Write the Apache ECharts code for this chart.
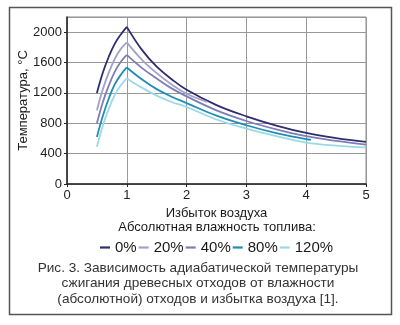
<!DOCTYPE html>
<html>
<head>
<meta charset="utf-8">
<script src="https://cdn.jsdelivr.net/npm/echarts@6/dist/echarts.min.js"></script>
<style>html,body{margin:0;padding:0;background:#fff}#c{width:400px;height:325px}</style>
</head>
<body>
<div id="c"></div>
<script>
var seriesNames = ['0%', '20%', '40%', '80%', '120%'];
var seriesColors = ['#2e2d6e', '#a3a2c8', '#7f7db5', '#1f8db6', '#9cd9e6'];
var x0  = [0.5, 0.6, 0.7, 0.8, 0.9, 1, 1.25, 1.5, 1.75, 2, 2.5, 3, 3.5, 4, 4.5, 5];
var t0  = [1200, 1470, 1680, 1850, 1970, 2070, 1770, 1545, 1380, 1242, 1040, 892, 770, 673, 605, 555];
var x20 = [0.5, 0.6, 0.7, 0.8, 0.9, 1, 1.25, 1.5, 1.75, 2, 2.35];
var t20 = [970, 1250, 1470, 1650, 1780, 1866, 1640, 1460, 1310, 1189, 1080];
var x40 = [0.5, 0.6, 0.7, 0.8, 0.9, 1, 1.25, 1.5, 1.75, 2, 2.5, 3, 3.5, 4, 4.5, 5];
var t40 = [800, 1080, 1300, 1480, 1610, 1700, 1530, 1390, 1260, 1154, 970, 830, 720, 630, 568, 520];
var x80 = [0.5, 0.6, 0.7, 0.8, 0.9, 1, 1.25, 1.5, 1.75, 2, 2.5, 3, 3.5, 4, 4.08];
var t80 = [620, 900, 1130, 1315, 1440, 1535, 1380, 1250, 1150, 1066, 900, 774, 670, 590, 580];
var x120 = [0.5, 0.6, 0.7, 0.8, 0.9, 1, 1.25, 1.5, 1.75, 2, 2.5, 3, 3.5, 4, 4.5, 5];
var t120 = [490, 770, 995, 1175, 1300, 1390, 1270, 1165, 1080, 1014, 850, 730, 630, 545, 505, 481];
var xTicks = [0, 1, 2, 3, 4, 5];
var yTicks = [0, 400, 800, 1200, 1600, 2000];
var yAxisTitle = 'Температура, °С';
var xAxisTitle = 'Избыток воздуха';
var legendTitle = 'Абсолютная влажность топлива:';
var captionLines = ['Рис. 3. Зависимость адиабатической температуры',
                    'сжигания древесных отходов от влажности',
                    '(абсолютной) отходов и избытка воздуха [1].'];

var xs = [x0, x20, x40, x80, x120];
var ts = [t0, t20, t40, t80, t120];
var FONT = '"Liberation Sans", Arial, sans-serif';

var series = [];
seriesNames.forEach(function (n, i) {
  var pts = xs[i].map(function (x, j) { return [x, ts[i][j]]; });
  var k = xs[i].indexOf(1);
  [pts.slice(0, k + 1), pts.slice(k)].forEach(function (part) {
    series.push({
      name: n, type: 'line', smooth: 0.4, symbol: 'none',
      lineStyle: { color: seriesColors[i], width: 1.8 },
      itemStyle: { color: seriesColors[i] },
      data: part
    });
  });
});

var chart = echarts.init(document.getElementById('c'));
chart.setOption({
  animation: false,
  backgroundColor: '#fff',
  textStyle: { fontFamily: FONT },
  grid: { left: 67, right: 34, top: 17, bottom: 141, show: true, borderColor: '#8a8a8a', borderWidth: 1 },
  xAxis: {
    type: 'value', min: 0, max: 5, interval: 1,
    name: xAxisTitle, nameLocation: 'middle', nameGap: 20,
    nameTextStyle: { fontSize: 13, color: '#1a1a1a', fontFamily: FONT },
    axisLine: { lineStyle: { color: '#222', width: 1.5 } },
    axisTick: { show: true, length: 3, lineStyle: { color: '#222' } },
    axisLabel: { fontSize: 13, color: '#222', margin: 5, fontFamily: FONT,
      formatter: function (v) { return xTicks.indexOf(v) >= 0 ? String(v) : ''; } },
    splitLine: { show: true, lineStyle: { color: '#999', width: 1 } }
  },
  yAxis: {
    type: 'value', min: 0, max: 2200, interval: 400,
    name: yAxisTitle, nameLocation: 'middle', nameGap: 37, nameRotate: 90, nameMoveOverlap: false,
    nameTextStyle: { fontSize: 13, color: '#1a1a1a', fontFamily: FONT },
    axisLine: { show: true, lineStyle: { color: '#222', width: 1.5 } },
    axisTick: { show: true, length: 3, lineStyle: { color: '#222' } },
    axisLabel: { fontSize: 13, color: '#222', margin: 5, showMaxLabel: false, fontFamily: FONT,
      formatter: function (v) { return yTicks.indexOf(v) >= 0 ? String(v) : ''; } },
    splitLine: { show: true, lineStyle: { color: '#999', width: 1 } }
  },
  legend: {
    data: seriesNames, top: 235, left: 95, icon: 'rect', itemWidth: 10, itemHeight: 2.2, itemGap: 2,
    textStyle: { fontSize: 15, color: '#1a1a1a', fontFamily: FONT }
  },
  graphic: [
    { type: 'rect', left: 7, top: 5, shape: { width: 382, height: 307 }, silent: true, z: -1,
      style: { fill: 'none', stroke: '#555', lineWidth: 1.5 } },
    { type: 'text', x: 217, y: 221, style: { text: legendTitle, font: '13px ' + FONT, fill: '#1a1a1a', align: 'center' } },
    { type: 'text', x: 198, y: 260, style: { text: captionLines.join('\n'), font: '13.6px ' + FONT, fill: '#333', align: 'center', lineHeight: 15.5 } }
  ],
  series: series
});
</script>
</body>
</html>
